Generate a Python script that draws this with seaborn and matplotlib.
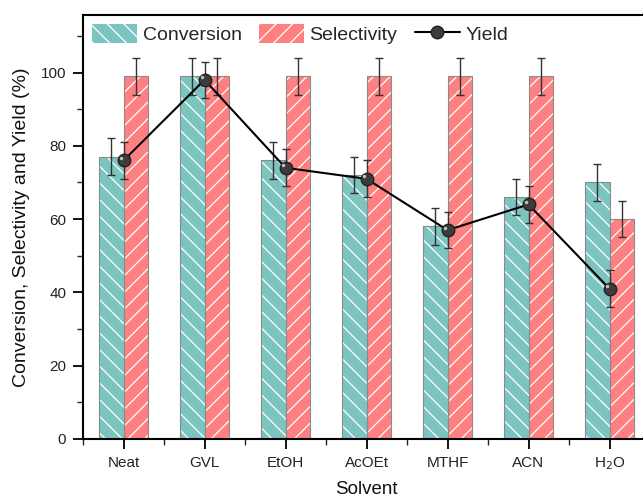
import matplotlib
matplotlib.use("Agg")
import matplotlib.pyplot as plt
from matplotlib.patches import Patch, Rectangle
from matplotlib.lines import Line2D
from matplotlib.ticker import MultipleLocator
import numpy as np
import pandas as pd
import seaborn as sns

solvents = ["Neat", "GVL", "EtOH", "AcOEt", "MTHF", "ACN", "H$_2$O"]
conversion = [77, 99, 76, 72, 58, 66, 70]
selectivity = [99, 99, 99, 99, 99, 99, 60]
yield_ = [76, 98, 74, 71, 57, 64, 41]
conv_err = [5, 5, 5, 5, 5, 5, 5]
sel_err = [5, 5, 5, 5, 5, 5, 5]
yield_err = [5, 5, 5, 5, 5, 5, 5]

teal = "#7cc4c0"
red = "#ff8080"

sns.set_theme(style="white")
plt.rcParams["font.family"] = ["Liberation Sans", "DejaVu Sans"]
plt.rcParams["hatch.linewidth"] = 0.9
plt.rcParams["hatch.color"] = "white"

df = pd.DataFrame({
    "Solvent": solvents * 2,
    "Value": conversion + selectivity,
    "Series": ["Conversion"] * 7 + ["Selectivity"] * 7,
})

fig = plt.figure(figsize=(6.43, 5.0), dpi=100)
ax = fig.add_axes([83 / 643, 61 / 500, (650 - 83) / 643, 424 / 500])

sns.barplot(data=df, x="Solvent", y="Value", hue="Series", order=solvents,
            hue_order=["Conversion", "Selectivity"],
            palette=[teal, red], width=0.6, gap=0, saturation=1,
            errorbar=None, legend=False, ax=ax)

hatches = {"Conversion": "\\\\", "Selectivity": "//"}
n = len(solvents)
for i, p in enumerate(list(ax.patches)[: 2 * n]):
    series = "Conversion" if i < n else "Selectivity"
    p.set_hatch(hatches[series])
    p.set_edgecolor("white")
    p.set_linewidth(0)
    ax.add_patch(Rectangle(p.get_xy(), p.get_width(), p.get_height(),
                           fill=False, edgecolor="#8a8a8a", linewidth=0.8, zorder=2.5))

x = np.arange(n)
ekw = dict(fmt="none", ecolor="#333333", elinewidth=1.0, capsize=3, capthick=1.0, zorder=4)
ax.errorbar(x - 0.15, conversion, yerr=conv_err, **ekw)
ax.errorbar(x + 0.15, selectivity, yerr=sel_err, **ekw)
ax.errorbar(x, yield_, yerr=yield_err, **ekw)
ax.plot(x, yield_, color="black", linewidth=1.5, marker="o", markersize=9,
        markerfacecolor="#3c3c3c", markeredgecolor="#222222", zorder=5)
ax.plot(x - 0.025, np.array(yield_) + 0.7, linestyle="none", marker="o", markersize=2.5,
        markerfacecolor="#c0c0c0", markeredgecolor="none", zorder=6)

ax.set_xlim(-0.5, 6.5)
ax.set_ylim(0, 115.7)
ax.yaxis.set_major_locator(MultipleLocator(20))
ax.yaxis.set_minor_locator(MultipleLocator(10))
ax.xaxis.set_minor_locator(MultipleLocator(1, offset=0.5))
ax.tick_params(axis="both", which="major", direction="out", length=7, width=1.3,
               labelsize=11, color="black", labelcolor="#222222",
               bottom=True, left=True, pad=5)
ax.tick_params(axis="both", which="minor", direction="out", length=4, width=1.0,
               bottom=True, left=True)
for s in ["left", "bottom", "top"]:
    ax.spines[s].set_linewidth(1.5)
    ax.spines[s].set_color("black")
ax.spines["right"].set_visible(False)

ax.set_xlabel("Solvent", fontsize=13.5, labelpad=6, color="#111111")
ax.set_ylabel("Conversion, Selectivity and Yield (%)", fontsize=14, labelpad=8,
              color="#111111")

handles = [
    Patch(facecolor=teal, edgecolor="white", hatch="\\\\", linewidth=0),
    Patch(facecolor=red, edgecolor="white", hatch="//", linewidth=0),
    Line2D([0], [0], color="black", linewidth=1.5, marker="o", markersize=9,
           markerfacecolor="#3c3c3c", markeredgecolor="#222222"),
]
ax.legend(handles, ["Conversion", "Selectivity", "Yield"], loc="upper left",
          bbox_to_anchor=(0.0, 1.0), ncol=3, frameon=False, fontsize=14,
          handlelength=2.3, handleheight=1.13, handletextpad=0.3, columnspacing=0.9,
          borderaxespad=0.16, borderpad=0.3)

fig.savefig("out.png", dpi=100)
